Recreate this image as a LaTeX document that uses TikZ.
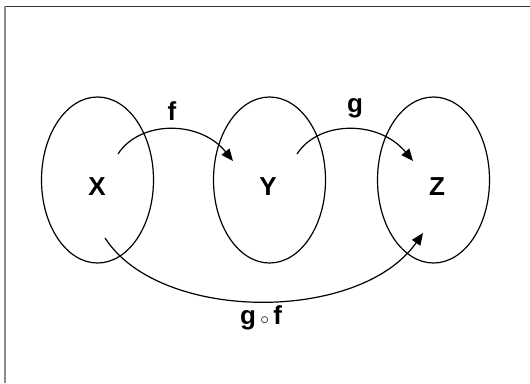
\documentclass[tikz,border=0pt]{standalone}
\usepackage{fontspec}
\setmainfont{Liberation Sans}
\usetikzlibrary{shapes.geometric,arrows.meta}
\begin{document}
\begin{tikzpicture}[x=1pt,y=-1pt,
  set/.style={draw, ellipse, line width=1.2pt, minimum width=112pt, minimum height=166pt, inner sep=0pt},
  setname/.style={font=\fontsize{26}{30}\selectfont\bfseries},
  maplabel/.style={font=\fontsize{26}{30}\selectfont\bfseries},
  maparrow/.style={line width=1.2pt, -{Triangle[length=12pt,width=10pt]}}]
  \useasboundingbox (0,0) rectangle (530,383);
  % frame edges
  \draw[line width=1pt, black!80] (4,6) -- (530,6);
  \draw[line width=2pt, black!45] (5,6) -- (5,383);
  % the three sets
  \node[set] (ex) at (97.5,180) {};
  \node[set] (ey) at (269.5,180) {};
  \node[set] (ez) at (433.5,180) {};
  \node[setname] (X) at (97,187) {X};
  \node[setname] (Y) at (268,187) {Y};
  \node[setname] (Z) at (437,187) {Z};
  % end points of the maps
  \coordinate (fs) at (118,154);
  \coordinate (ft) at (233,161);
  \coordinate (gs) at (297,154);
  \coordinate (gt) at (413,161);
  \coordinate (hs) at (105,238);
  \coordinate (ht) at (423,233);
  \draw[maparrow] (fs) .. controls (140,120) and (200,120) .. (ft);
  \draw[maparrow] (gs) .. controls (319,120) and (379,120) .. (gt);
  \draw[maparrow] (hs) .. controls (160,323) and (360,323) .. (ht);
  \node[maplabel] (fl) at (172,111) {f};
  \node[maplabel] (gl) at (355,108) {g};
  \node[maplabel] (hl) at (261,318) {g\,{\mdseries\fontsize{18}{20}\selectfont$\circ$}\,f};
\end{tikzpicture}
\end{document}
